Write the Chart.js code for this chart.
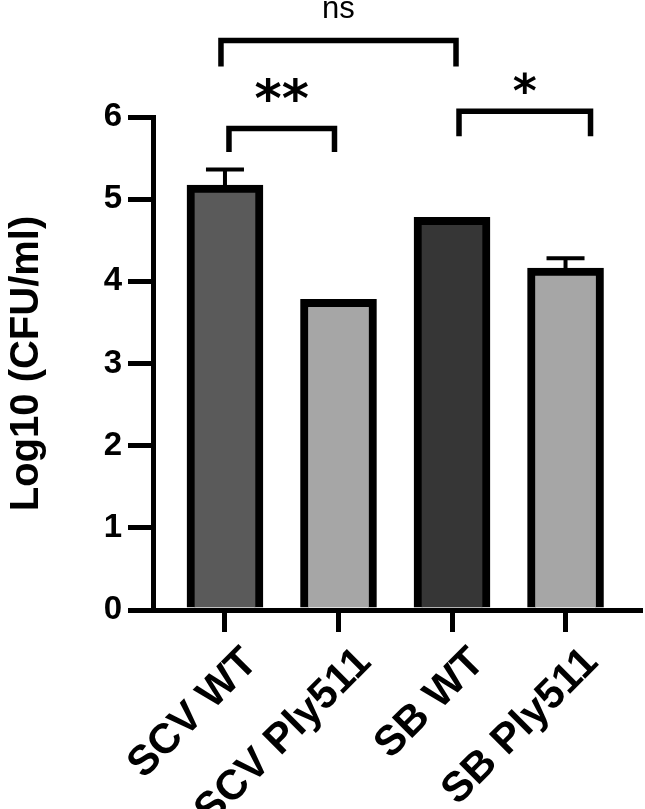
<!DOCTYPE html>
<html>
<head>
<meta charset="utf-8">
<script src="https://cdn.jsdelivr.net/npm/chart.js@4.4.0/dist/chart.umd.min.js"></script>
<style>
  body { margin: 0; background: #fff; }
  #wrap { width: 645px; height: 809px; }
</style>
</head>
<body>
<div id="wrap"><canvas id="cfu-chart"></canvas></div>
<script>
// values
var groups = ['SCV WT', 'SCV Ply511', 'SB WT', 'SB Ply511']
var meanLog = [5.17, 3.78, 4.78, 4.16]
var sdLog = [0.19, 0, 0, 0.12]
var barColors = ['#5a5a5a', '#a6a6a6', '#363636', '#a6a6a6']

// significance comparisons (group indexes)
var compFrom = [0, 0, 2]
var compTo = [2, 1, 3]
var compLabel = ['ns', '**', '*']

// where each bracket sits: y of bar line (axis units), pixel nudges
var bracketLayout = [
  { top: 6.93, legs: 26, dx1: -4, dx2: 4, textY: 7.21, font: '31px "Liberation Sans", Arial, sans-serif', mid: false },
  { top: 5.86, legs: 23.5, dx1: 4, dx2: -4, textY: 6.34, font: 'bold 52px "DejaVu Sans", sans-serif', mid: true },
  { top: 6.07, legs: 25, dx1: 7, dx2: 25, textY: 6.41, font: 'bold 46px "DejaVu Sans", sans-serif', mid: true }
]

var boldFont = '"Liberation Sans", Arial, Helvetica, sans-serif'

var errorBars = {
  id: 'errorBars',
  afterDatasetsDraw: function(chart) {
    var ctx = chart.ctx
    var xs = chart.scales.x, ys = chart.scales.y
    ctx.save()
    ctx.strokeStyle = '#000'
    ctx.lineWidth = 4
    sdLog.forEach(function(sd, i) {
      if (!sd) return
      var x = xs.getPixelForValue(i)
      var y1 = ys.getPixelForValue(meanLog[i])
      var y2 = ys.getPixelForValue(meanLog[i] + sd)
      ctx.beginPath()
      ctx.moveTo(x, y1)
      ctx.lineTo(x, y2)
      ctx.moveTo(x - 19, y2)
      ctx.lineTo(x + 19, y2)
      ctx.stroke()
    })
    ctx.restore()
  }
}

var brackets = {
  id: 'brackets',
  afterDraw: function(chart) {
    var ctx = chart.ctx
    var xs = chart.scales.x, ys = chart.scales.y
    ctx.save()
    ctx.strokeStyle = '#000'
    ctx.fillStyle = '#000'
    ctx.lineWidth = 5.5
    ctx.lineJoin = 'miter'
    compLabel.forEach(function(label, i) {
      var b = bracketLayout[i]
      var x1 = xs.getPixelForValue(compFrom[i]) + b.dx1
      var x2 = xs.getPixelForValue(compTo[i]) + b.dx2
      var yTop = ys.getPixelForValue(b.top)
      ctx.beginPath()
      ctx.moveTo(x1, yTop + b.legs)
      ctx.lineTo(x1, yTop)
      ctx.lineTo(x2, yTop)
      ctx.lineTo(x2, yTop + b.legs)
      ctx.stroke()

      ctx.font = b.font
      ctx.textAlign = 'center'
      ctx.textBaseline = 'alphabetic'
      var ty = ys.getPixelForValue(b.textY)
      if (b.mid) {
        var m = ctx.measureText(label)
        ty = ty + (m.actualBoundingBoxAscent - m.actualBoundingBoxDescent) / 2
      }
      ctx.fillText(label, (x1 + x2) / 2, ty)
    })
    ctx.restore()
  }
}

var chart = new Chart(document.getElementById('cfu-chart'), {
  type: 'bar',
  data: {
    datasets: [{
      data: meanLog.map(function(v, i) { return { x: i, y: v } }),
      backgroundColor: barColors,
      borderColor: '#000',
      borderWidth: 8,
      barThickness: 76
    }]
  },
  options: {
    responsive: true,
    maintainAspectRatio: false,
    animation: false,
    layout: { padding: { top: 117, right: 5, left: 0, bottom: 0 } },
    plugins: { legend: { display: false }, tooltip: { enabled: false } },
    scales: {
      x: {
        type: 'linear',
        offset: false,
        min: -0.634,
        max: 3.656,
        afterBuildTicks: function(scale) {
          scale.ticks = groups.map(function(g, i) { return { value: i } })
        },
        afterFit: function(scale) { scale.height = 199 },
        grid: { offset: false, drawOnChartArea: false, tickLength: 22, lineWidth: 5, color: '#000' },
        border: { display: true, width: 5, color: '#000' },
        ticks: {
          autoSkip: false,
          maxRotation: 45,
          minRotation: 45,
          padding: 6,
          labelOffset: 26,
          color: '#000',
          font: { family: boldFont, size: 42, weight: 'bold' },
          callback: function(v) { return groups[v] }
        }
      },
      y: {
        min: 0,
        max: 6,
        afterFit: function(scale) { scale.width = 153 },
        grid: { drawOnChartArea: false, tickLength: 25, lineWidth: 5, color: '#000' },
        border: { display: true, width: 5, color: '#000' },
        ticks: {
          stepSize: 1,
          padding: 6,
          color: '#000',
          font: { family: boldFont, size: 33, weight: 'bold' }
        },
        title: {
          display: true,
          text: 'Log10 (CFU/ml)',
          color: '#000',
          padding: { top: 3, bottom: 0 },
          font: { family: boldFont, size: 40, weight: 'bold' }
        }
      }
    }
  },
  plugins: [errorBars, brackets]
})
</script>
</body>
</html>
